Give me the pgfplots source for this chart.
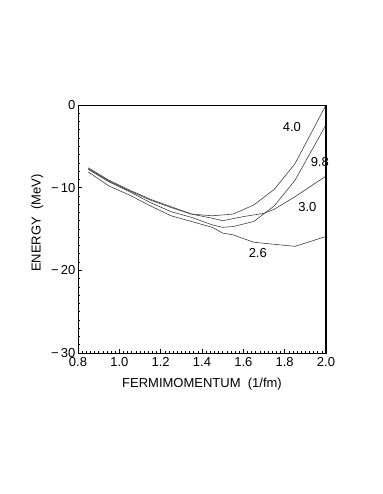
\documentclass[border=0pt]{standalone}
\usepackage{pgfplots}
\pgfplotsset{compat=1.18}
\usepackage{fontspec}
\setmainfont{Liberation Sans}
\begin{document}
\begin{tikzpicture}
\path[use as bounding box] (-78pt,-141pt) rectangle (304pt,353pt);
\begin{axis}[scale only axis, width=248pt, height=248pt,
  xmin=0.8, xmax=2.0, ymin=-30, ymax=0,
  xtick={0.8,1.0,...,2.0}, ytick={-30,-20,-10,0},
  xticklabels={0.8,1.0,1.2,1.4,1.6,1.8,2.0},
  yticklabels={−\,30,−\,20,−\,10,0},
  minor x tick num=9, minor y tick num=9,
  tick align=inside, xtick pos=bottom, ytick pos=left,
  major tick length=4pt, minor tick length=2pt,
  tick style={black, line width=0.6pt},
  axis line style={line width=0.6pt},
  tick label style={font=\fontsize{13}{15}\selectfont},
  label style={font=\fontsize{13}{15}\selectfont},
  xticklabel style={yshift=-1pt}, yticklabel style={xshift=1pt},
  xlabel={FERMIMOMENTUM\ \ (1/fm)}, ylabel={ENERGY\ \ (MeV)},
  xlabel style={yshift=-4pt}, ylabel style={yshift=1pt, xshift=6pt},
  clip=false]
% 4.0
\addplot[black!75, line width=0.6pt, no markers] coordinates {(0.85,-7.6) (0.95,-9.1) (1.05,-10.3) (1.15,-11.4) (1.25,-12.3) (1.35,-13.2) (1.45,-13.4) (1.55,-13.2) (1.65,-12.1) (1.75,-10.2) (1.85,-7.1) (2.0,0)};
% 9.8
\addplot[black!75, line width=0.6pt, no markers] coordinates {(0.85,-7.8) (0.95,-9.3) (1.05,-10.5) (1.15,-11.8) (1.25,-12.9) (1.35,-13.6) (1.45,-14.5) (1.5,-14.8) (1.55,-14.7) (1.65,-14.1) (1.75,-12.2) (1.85,-9.1) (2.0,-2.4)};
% 3.0
\addplot[black!75, line width=0.6pt, no markers] coordinates {(0.85,-7.7) (0.95,-9.2) (1.05,-10.4) (1.15,-11.5) (1.25,-12.4) (1.35,-13.2) (1.45,-13.7) (1.5,-14.0) (1.6,-13.5) (1.7,-13.1) (1.75,-12.6) (1.85,-11.1) (2.0,-8.6)};
% 2.6
\addplot[black!75, line width=0.6pt, no markers] coordinates {(0.85,-8.1) (0.95,-9.8) (1.05,-10.9) (1.15,-12.2) (1.25,-13.4) (1.35,-14.1) (1.45,-14.8) (1.5,-15.5) (1.55,-15.7) (1.65,-16.6) (1.85,-17.1) (2.0,-15.9)};
\node[font=\fontsize{13}{15}\selectfont] at (axis cs:1.835,-2.7) {4.0};
\node[font=\fontsize{13}{15}\selectfont] at (axis cs:1.97,-6.9) {9.8};
\node[font=\fontsize{13}{15}\selectfont] at (axis cs:1.91,-12.3) {3.0};
\node[font=\fontsize{13}{15}\selectfont] at (axis cs:1.67,-17.9) {2.6};
\draw[line width=1.2pt] (rel axis cs:1,0) -- (rel axis cs:1,1);
\end{axis}
\end{tikzpicture}
\end{document}
